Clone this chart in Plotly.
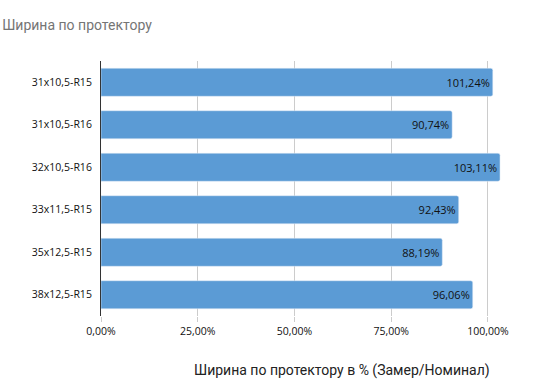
import plotly.graph_objects as go

categories = ["31x10,5-R15", "31x10,5-R16", "32x10,5-R16", "33x11,5-R15", "35x12,5-R15", "38x12,5-R15"]
values = [1.0124, 0.9074, 1.0311, 0.9243, 0.8819, 0.9606]
labels = ["101,24%", "90,74%", "103,11%", "92,43%", "88,19%", "96,06%"]
tick_vals = [0, 0.25, 0.5, 0.75, 1.0]
tick_text = ["0,00%", "25,00%", "50,00%", "75,00%", "100,00%"]

fig = go.Figure(go.Bar(
    x=values, y=categories, orientation="h",
    marker=dict(color="#5b9bd5", cornerradius=2),
    text=labels, textposition="inside", insidetextanchor="end",
    textfont=dict(family="Open Sans", size=11, color="#111111"),
    cliponaxis=False,
))

fig.update_layout(
    width=541, height=379,
    margin=dict(l=101, r=14, t=61, b=63),
    plot_bgcolor="white", paper_bgcolor="white",
    bargap=0.34,
    showlegend=False,
    font=dict(family="Open Sans", size=11, color="#222"),
    title=dict(text="Ширина по протектору", x=0.004, xanchor="left", y=1 - 25 / 379, yanchor="middle",
               font=dict(family="Roboto", size=14, color="#757575")),
    xaxis=dict(range=[0, 1.1008], tickvals=tick_vals, ticktext=tick_text,
               showgrid=True, gridcolor="#cccccc", gridwidth=1, zeroline=False,
               ticks="outside", ticklen=5, tickcolor="#cccccc",
               tickfont=dict(family="Open Sans", size=10.5, color="#111111")),
    yaxis=dict(categoryorder="array", categoryarray=categories[::-1],
               showline=True, linecolor="#333333", linewidth=1,
               ticks="", ticklabelstandoff=6,
               tickfont=dict(family="Open Sans", size=10.5, color="#111111")),
    annotations=[dict(text="Ширина по протектору в % (Замер/Номинал)", xref="paper", yref="paper",
                      x=(342 - 101) / 426, y=-(370 - 316) / 255, xanchor="center", yanchor="middle",
                      showarrow=False, font=dict(family="Roboto", size=14, color="#222"))],
)

fig.write_html("out.html", config={"displayModeBar": False},
               post_script="document.body.style.margin='0';")
